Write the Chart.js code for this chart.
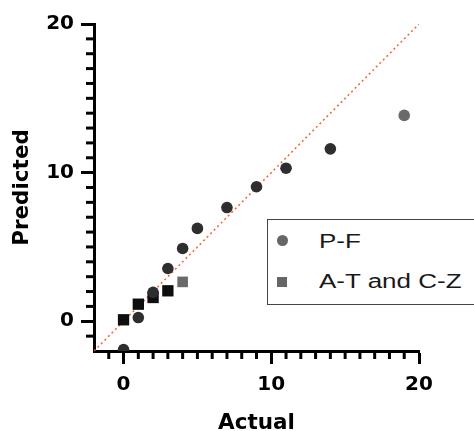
<!DOCTYPE html>
<html>
<head>
<meta charset="utf-8">
<script src="https://cdn.jsdelivr.net/npm/chart.js@4"></script>
<style>
  html, body { margin: 0; padding: 0; background: #fff; }
  #wrap { position: relative; width: 474px; height: 431px; overflow: hidden; }
  #legend {
    position: absolute; left: 267px; top: 219px; width: 230px; height: 86px;
    border: 1.5px solid #444; background: #fff; box-sizing: border-box;
    font-family: "Liberation Sans", Arial, sans-serif; font-size: 20px; line-height: 20px; color: #1a1a1a;
  }
  #legend span { position: absolute; left: 50.5px; white-space: nowrap; transform: scaleX(1.3); transform-origin: left center; }
  .dot { position: absolute; left: 8.5px; top: 14.5px; width: 11px; height: 11px; border-radius: 50%; background: #666; }
  .sq { position: absolute; left: 8.5px; top: 56.5px; width: 10px; height: 10px; background: #666; }
</style>
</head>
<body>
<div id="wrap">
  <canvas id="chart" width="474" height="431"></canvas>
  <div id="legend">
    <div class="dot"></div><span style="top:11px">P-F</span>
    <div class="sq"></div><span style="top:51px">A-T and C-Z</span>
  </div>
</div>
<script>
// P-F, circles (dark ones drawn over the gray legend marker colour)
const circleActual = [0, 1, 2, 3, 4, 5, 7, 9, 11, 14];
const circlePredicted = [-1.9, 0.25, 1.95, 3.55, 4.9, 6.25, 7.65, 9.05, 10.3, 11.6];
const pfActual = [19];
const pfPredicted = [13.85];

// A-T and C-Z, squares
const squareActual = [0, 1, 2, 3];
const squarePredicted = [0.1, 1.15, 1.6, 2.05];
const atczActual = [4];
const atczPredicted = [2.65];

// identity line
const lineEnds = [-2, 20];
const tickLabels = [0, 10, 20];

function toPoints(xs, ys) {
    return xs.map((x, i) => ({ x: x, y: ys[i] }));
}

const family = '"DejaVu Sans", Verdana, sans-serif';

// draw the short minor ticks at every unit
const minorTicks = {
    id: 'minorTicks',
    afterDraw(chart) {
        const ctx = chart.ctx;
        const xs = chart.scales.x, ys = chart.scales.y;
        ctx.save();
        ctx.strokeStyle = '#000';
        ctx.lineWidth = 3;
        for (let v = -1; v <= 20; v++) {
            if (tickLabels.includes(v)) continue;
            const px = xs.getPixelForValue(v);
            ctx.beginPath();
            ctx.moveTo(px, xs.top);
            ctx.lineTo(px, xs.top + 8);
            ctx.stroke();
            const py = ys.getPixelForValue(v);
            ctx.beginPath();
            ctx.moveTo(ys.right, py);
            ctx.lineTo(ys.right - 8, py);
            ctx.stroke();
        }
        ctx.restore();
    }
};

function axis(title, isY) {
    return {
        type: 'linear',
        min: -2,
        max: 20,
        afterBuildTicks: scale => { scale.ticks = tickLabels.map(v => ({ value: v })); },
        ticks: { font: { family: family, size: 20, weight: 'bold' }, color: '#000', padding: isY ? 7 : 9 },
        grid: { drawOnChartArea: false, tickLength: 13, tickWidth: 3, color: '#000' },
        border: { display: true, width: 3, color: '#000' },
        title: {
            display: true,
            text: title,
            font: { family: family, size: 21.5, weight: 'bold' },
            color: '#000',
            padding: isY ? { top: 10, bottom: 0 } : { top: 0, bottom: -5 }
        },
        afterFit: scale => { if (isY) scale.width = 94; else scale.height = 80; }
    };
}

new Chart(document.getElementById('chart').getContext('2d'), {
    type: 'scatter',
    data: {
        datasets: [
            {
                type: 'line',
                order: 10,
                data: toPoints(lineEnds, lineEnds),
                borderColor: '#f0623c',
                borderWidth: 1.5,
                borderDash: [2, 3],
                pointRadius: 0,
                fill: false
            },
            {
                data: toPoints(circleActual, circlePredicted),
                backgroundColor: '#2e2e2e',
                borderWidth: 0,
                pointRadius: 5.8,
                clip: 0
            },
            {
                data: toPoints(pfActual, pfPredicted),
                backgroundColor: '#6a6a6a',
                borderWidth: 0,
                pointRadius: 5.8
            },
            {
                data: toPoints(squareActual, squarePredicted),
                backgroundColor: '#0e0e0e',
                borderWidth: 0,
                pointStyle: 'rect',
                pointRadius: 8
            },
            {
                data: toPoints(atczActual, atczPredicted),
                backgroundColor: '#6a6a6a',
                borderWidth: 0,
                pointStyle: 'rect',
                pointRadius: 7.5
            }
        ]
    },
    options: {
        responsive: false,
        animation: false,
        layout: { padding: { top: 24, right: 55, left: 0, bottom: 0 } },
        plugins: { legend: { display: false }, tooltip: { enabled: false } },
        scales: {
            x: axis('Actual', false),
            y: axis('Predicted', true)
        }
    },
    plugins: [minorTicks]
});
</script>
</body>
</html>
